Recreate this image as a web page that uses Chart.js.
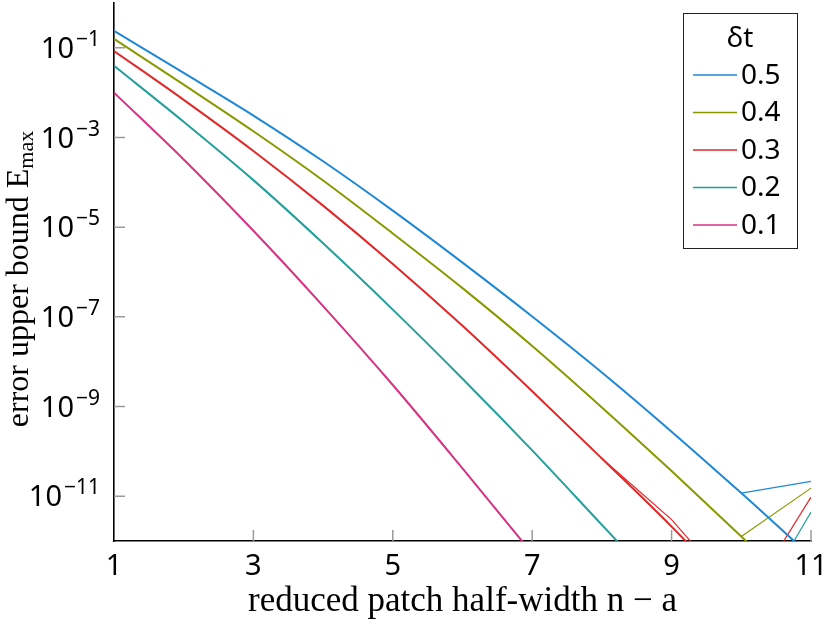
<!DOCTYPE html>
<html>
<head>
<meta charset="utf-8">
<script src="https://cdn.jsdelivr.net/npm/chart.js@4/dist/chart.umd.min.js"></script>
<style>
  html, body { margin: 0; padding: 0; background: #fff; }
  canvas { display: block; }
</style>
</head>
<body>
<canvas id="c" width="828" height="625"></canvas>
<script>
// ---- data ----
const xValues = [1, 2, 3, 4, 5, 6, 7, 8, 9, 10, 11];
const seriesLabels = ['0.5', '0.4', '0.3', '0.2', '0.1'];
// main curves (the last value of each is the first point below the plotted range)
const dt05 = [2.40e-1, 2.75e-2, 3.09e-3, 2.95e-4, 2.34e-5, 1.62e-6, 1.02e-7, 5.75e-9, 2.75e-10, 1.17e-11, 4.5e-13];
const dt04 = [1.58e-1, 1.51e-2, 1.38e-3, 1.10e-4, 7.24e-6, 4.37e-7, 2.24e-8, 9.55e-10, 3.63e-11, 1.26e-12, 4e-14];
const dt03 = [8.51e-2, 6.92e-3, 5.01e-4, 3.02e-5, 1.51e-6, 6.31e-8, 2.19e-9, 6.92e-11, 2.09e-12, 5e-14, null];
const dt02 = [3.98e-2, 2.24e-3, 1.12e-4, 4.37e-6, 1.45e-7, 4.17e-9, 1.05e-10, 2.29e-12, 5e-14, null, null];
const dt01 = [1.00e-2, 3.24e-4, 8.32e-6, 1.74e-7, 3.02e-9, 4.17e-11, 5.25e-13, null, null, null, null];
// round-off tails that rise again at the right edge, and a secondary 0.3 curve
const dt05tail = [null, null, null, null, null, null, null, null, null, 1.17e-11, 2.14e-11];
const dt04tail = [null, null, null, null, null, null, null, null, null, 1.26e-12, 1.51e-11];
const dt03tail = [null, null, null, null, null, null, null, null, null, 3e-14, 9.5e-12];
const dt02tail = [null, null, null, null, null, null, null, null, null, 1e-14, 4.4e-12];
const dt03b = [null, null, null, null, null, null, null, 6.92e-11, 3e-12, 5e-14, null];
const yTickValues = [1e-1, 1e-3, 1e-5, 1e-7, 1e-9, 1e-11];
const yTickExponents = ['\u22121', '\u22123', '\u22125', '\u22127', '\u22129', '\u221211'];
const xTickValues = [1, 3, 5, 7, 9, 11];
const colors = ['#1e88d6', '#889900', '#e02828', '#23a09a', '#d63282'];

const toPts = arr => xValues.map((x, i) => ({ x: x, y: arr[i] }));
const mainSeries = [dt05, dt04, dt03, dt02, dt01];
const datasets = mainSeries.map((arr, i) => ({
  label: seriesLabels[i], data: toPts(arr), borderColor: colors[i],
  borderWidth: 2, pointRadius: 0, fill: false, cubicInterpolationMode: 'monotone', spanGaps: false
}));
[[dt05tail, 0], [dt04tail, 1], [dt03tail, 2], [dt02tail, 3], [dt03b, 2]].forEach(([arr, ci]) => datasets.push({
  label: '', data: toPts(arr), borderColor: colors[ci], borderWidth: 1.2,
  pointRadius: 0, fill: false, tension: 0, spanGaps: false
}));

const tickFont = '"Noto Sans", "DejaVu Sans", sans-serif';

const decorPlugin = {
  id: 'decor',
  afterDraw(chart) {
    const ctx = chart.ctx, ca = chart.chartArea;
    const xs = chart.scales.x, ys = chart.scales.y;
    ctx.save();
    // inward tick marks
    ctx.strokeStyle = '#9a9a9a'; ctx.lineWidth = 1.5;
    ctx.beginPath();
    yTickValues.forEach(v => { const py = ys.getPixelForValue(v); ctx.moveTo(ca.left, py); ctx.lineTo(ca.left + 11, py); });
    xTickValues.slice(1).forEach(v => { const px = xs.getPixelForValue(v); ctx.moveTo(px, ca.bottom); ctx.lineTo(px, ca.bottom - 11); });
    ctx.stroke();
    // y tick labels: 10 with superscript exponent
    ctx.fillStyle = '#000'; ctx.textBaseline = 'alphabetic'; ctx.textAlign = 'left';
    const bf = '29px ' + tickFont, ef = '21px ' + tickFont;
    yTickValues.forEach((v, i) => {
      const py = ys.getPixelForValue(v);
      ctx.font = bf; const wb = ctx.measureText('10').width;
      ctx.font = ef; const we = ctx.measureText(yTickExponents[i]).width;
      const x0 = ca.left - 14 - wb - we - 2;
      ctx.font = bf; ctx.fillText('10', x0, py + 10);
      ctx.font = ef; ctx.fillText(yTickExponents[i], x0 + wb + 2, py - 2);
    });
    // legend
    const bx = 683, by = 13, bw = 114, bh = 235;
    ctx.fillStyle = '#fff'; ctx.fillRect(bx, by, bw, bh);
    ctx.strokeStyle = '#222'; ctx.lineWidth = 1; ctx.strokeRect(bx + 0.5, by + 0.5, bw, bh);
    ctx.fillStyle = '#000'; ctx.textBaseline = 'middle';
    ctx.font = '28px ' + tickFont; ctx.textAlign = 'center';
    ctx.fillText('\u03B4t', bx + bw / 2, by + 26);
    ctx.textAlign = 'left';
    seriesLabels.forEach((lab, i) => {
      const yy = by + 62 + i * 37.5;
      ctx.strokeStyle = colors[i]; ctx.lineWidth = 1.3;
      ctx.beginPath(); ctx.moveTo(bx + 10, yy); ctx.lineTo(bx + 54, yy); ctx.stroke();
      ctx.fillStyle = '#000'; ctx.fillText(lab, bx + 58, yy + 1);
    });
    // y axis title with subscript
    const main = 'error upper bound E', sub = 'max';
    const mf = '32px "Liberation Serif", serif', sf = '22px "Liberation Serif", serif';
    ctx.font = mf; const w1 = ctx.measureText(main).width;
    ctx.font = sf; const w2 = ctx.measureText(sub).width;
    const total = w1 + w2;
    ctx.translate(18, (ca.top + ca.bottom) / 2 + 7);
    ctx.rotate(-Math.PI / 2);
    ctx.textAlign = 'left'; ctx.textBaseline = 'alphabetic'; ctx.fillStyle = '#000';
    ctx.font = mf; ctx.fillText(main, -total / 2, 10);
    ctx.font = sf; ctx.fillText(sub, -total / 2 + w1, 15);
    ctx.restore();
  }
};

new Chart(document.getElementById('c'), {
  type: 'line',
  data: { datasets: datasets },
  options: {
    responsive: false, animation: false, devicePixelRatio: 1,
    layout: { padding: { top: 3, right: 17, left: 0, bottom: 0 } },
    plugins: { legend: { display: false }, tooltip: { enabled: false } },
    scales: {
      x: {
        type: 'linear', min: 1, max: 11,
        afterBuildTicks: s => { s.ticks = xTickValues.map(v => ({ value: v })); },
        ticks: { font: { family: tickFont, size: 29 }, color: '#000', padding: 8, maxRotation: 0 },
        grid: { display: false, drawTicks: false },
        border: { display: true, color: '#000', width: 1.6 },
        title: { display: true, text: 'reduced patch half-width n \u2212 a', color: '#000',
                 font: { family: '"Liberation Serif", serif', size: 35 }, padding: { top: 0, bottom: 2 } },
        afterFit: s => { s.height = 84; s.paddingLeft = 0; s.paddingRight = 0; }
      },
      y: {
        type: 'logarithmic', min: 1e-12, max: 1,
        afterBuildTicks: s => { s.ticks = yTickValues.map(v => ({ value: v })); },
        ticks: { display: false },
        grid: { display: false, drawTicks: false },
        border: { display: true, color: '#000', width: 1.6 },
        afterFit: s => { s.width = 114; s.paddingTop = 0; s.paddingBottom = 0; }
      }
    }
  },
  plugins: [decorPlugin]
});
</script>
</body>
</html>
